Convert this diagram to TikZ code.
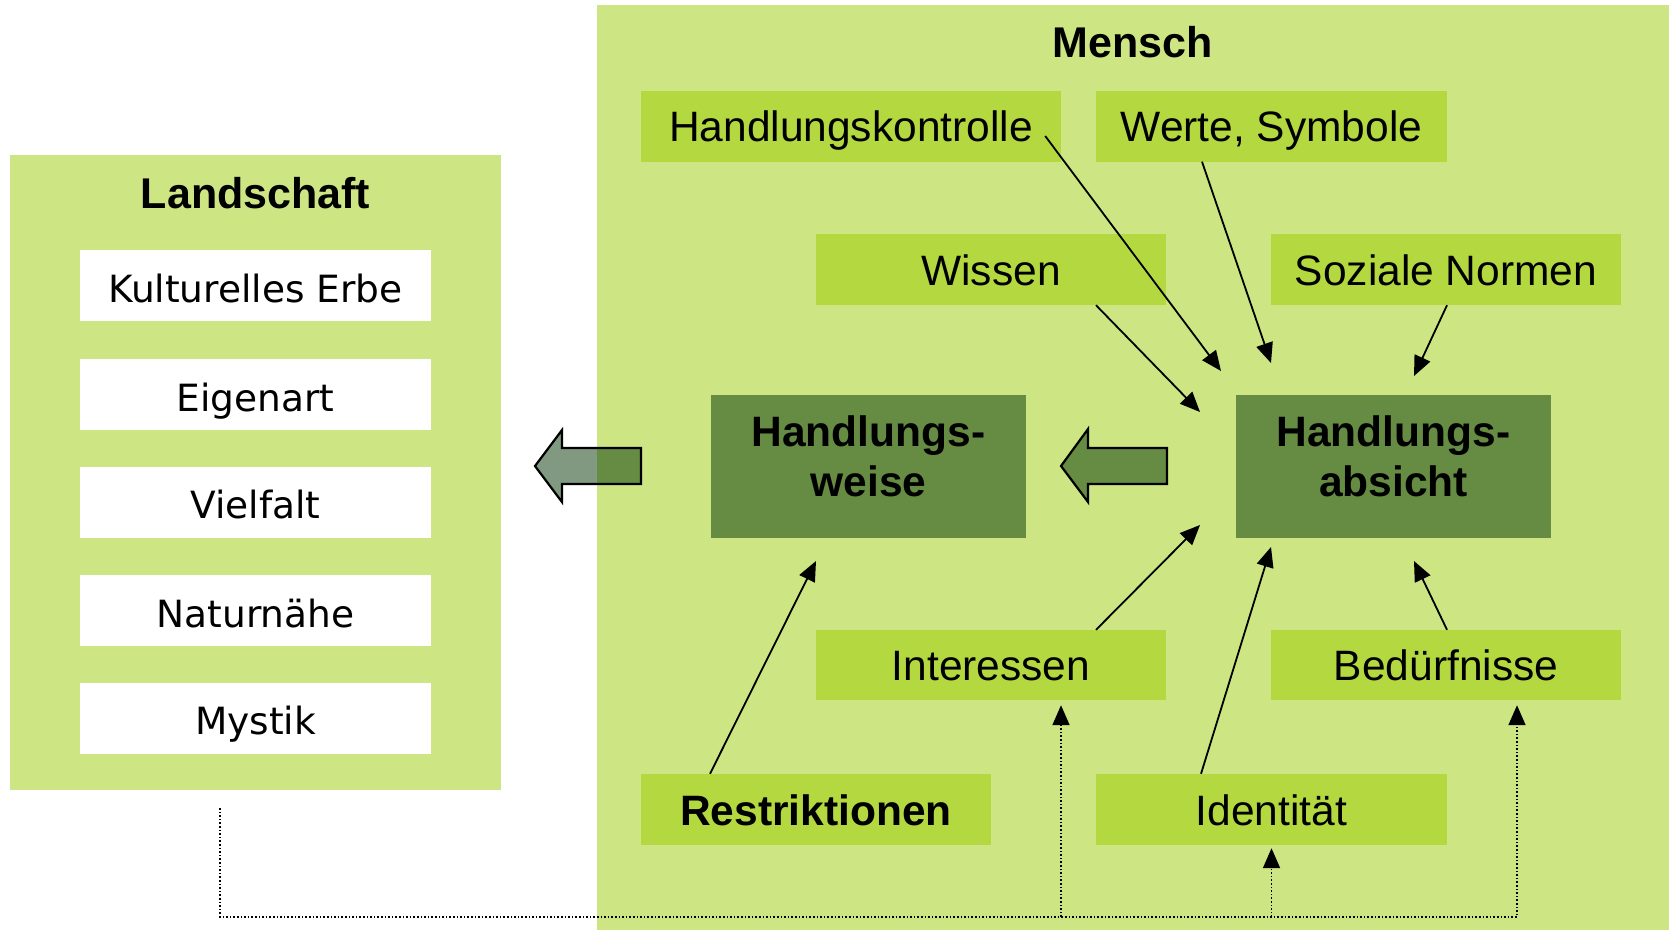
\documentclass[tikz,border=0pt]{standalone}
\usepackage{fontspec}
\setmainfont{Liberation Sans}
\newfontfamily\boxfont{DejaVu Sans}
\usetikzlibrary{arrows.meta}
\definecolor{lightg}{RGB}{205,229,130}
\definecolor{midg}{RGB}{180,216,64}
\definecolor{darkg}{RGB}{102,139,66}
\definecolor{greyg}{RGB}{128,153,128}
\tikzset{
  bigfont/.style={font=\fontsize{42.5pt}{50pt}\selectfont},
  factor/.style={fill=midg, draw=none, inner sep=0pt, minimum height=71pt, text height=31pt, text depth=0pt, bigfont},
  core/.style={fill=darkg, draw=none, inner sep=0pt, minimum width=315pt, minimum height=143pt, align=center, text depth=20pt, font=\fontsize{42.5pt}{50pt}\selectfont\bfseries},
  landbox/.style={fill=white, draw=none, inner sep=0pt, minimum width=351pt, minimum height=71pt, text height=33pt, text depth=0pt, font=\boxfont\fontsize{37.5pt}{44pt}\selectfont},
  title/.style={inner sep=0pt, font=\fontsize{43pt}{50pt}\selectfont\bfseries},
  conn/.style={line width=1.8pt, -{Triangle[length=20pt,width=17pt]}},
  dotline/.style={line width=1.8pt, dash pattern=on 1.6pt off 2pt},
  blockarrow/.style={line width=2.2pt, line join=miter}
}
\begin{document}
\begin{tikzpicture}[x=1pt,y=-1pt]
\useasboundingbox (0,0) rectangle (1669,930);
% panels
\fill[lightg] (597,5) rectangle (1669,930);
\fill[lightg] (10,155) rectangle (501,790);
\node[title] (landtitle) at (255.5,193) {Landschaft};
\node[title] (menschtitle) at (1133,42) {Mensch};
% Landschaft boxes
\node[landbox] (erbe) at (255.5,285.5) {Kulturelles Erbe};
\node[landbox] (eigen) at (255.5,394.5) {Eigenart};
\node[landbox] (viel) at (255.5,502) {Vielfalt};
\node[landbox] (natur) at (255.5,610.5) {Naturnähe};
\node[landbox] (mystik) at (255.5,718) {Mystik};
% Mensch boxes
\node[factor, minimum width=420pt] (kontrolle) at (851,126) {Handlungskontrolle};
\node[factor, minimum width=351pt] (werte) at (1271.5,126) {Werte, Symbole};
\node[factor, minimum width=350pt] (wissen) at (991,269.5) {Wissen};
\node[factor, minimum width=350pt] (normen) at (1446,269.5) {Soziale Normen};
\node[core] (weise) at (868.5,466.5) {Handlungs-\\weise};
\node[core] (absicht) at (1393.5,466.5) {Handlungs-\\absicht};
\node[factor, minimum width=350pt, minimum height=70pt] (interessen) at (991,665) {Interessen};
\node[factor, minimum width=350pt, minimum height=70pt] (beduerf) at (1446,665) {Bedürfnisse};
\node[factor, minimum width=350pt, font=\fontsize{42.5pt}{50pt}\selectfont\bfseries] (restrikt) at (816,809.5) {Restriktionen};
\node[factor, minimum width=351pt] (ident) at (1271.5,809.5) {Identität};
% block arrows
\begin{scope}
  \path[fill=greyg] (535,466) -- (562,430) -- (562,448) -- (641,448) -- (641,484) -- (562,484) -- (562,502) -- cycle;
  \clip (597,5) rectangle (1669,930);
  \path[fill=darkg] (535,466) -- (562,430) -- (562,448) -- (641,448) -- (641,484) -- (562,484) -- (562,502) -- cycle;
\end{scope}
\draw[blockarrow] (535,466) -- (562,430) -- (562,448) -- (641,448) -- (641,484) -- (562,484) -- (562,502) -- cycle;
\draw[blockarrow, fill=darkg] (1061,466) -- (1088,429) -- (1088,448) -- (1167,448) -- (1167,484) -- (1088,484) -- (1088,502) -- cycle;
% endpoints near Handlungsabsicht / Handlungsweise
\coordinate (e1) at (1221,371);
\coordinate (e2) at (1271,363);
\coordinate (e3) at (1200,412);
\coordinate (e4) at (1414,376);
\coordinate (e5) at (1200,525);
\coordinate (e6) at (1271,547);
\coordinate (e7) at (1414,561);
\coordinate (e8) at (816,561);
% solid connectors
\draw[conn] ([xshift=-16pt,yshift=-10pt]kontrolle.east) -- (e1);
\draw[conn] ([xshift=-69.5pt]werte.south) -- (e2);
\draw[conn] ([xshift=105pt]wissen.south) -- (e3);
\draw[conn] ([xshift=1pt]normen.south) -- (e4);
\draw[conn] ([xshift=105pt]interessen.north) -- (e5);
\draw[conn] ([xshift=-70.5pt]ident.north) -- (e6);
\draw[conn] ([xshift=1pt]beduerf.north) -- (e7);
\draw[conn] ([xshift=-106pt]restrikt.north) -- (e8);
% dotted feedback lines
\coordinate (lsrc) at (220,808);
\coordinate (j1) at (1061,917);
\coordinate (j2) at (1271.5,917);
\draw[dotline, -{Triangle[length=20pt,width=17pt]}, shorten >=5pt] (lsrc) |- (1517,917) -- ([xshift=71pt]beduerf.south);
\draw[dotline, -{Triangle[length=20pt,width=17pt]}, shorten >=5pt] (j1) -- ([xshift=70pt]interessen.south);
\draw[dotline, -{Triangle[length=20pt,width=17pt]}, shorten >=3pt] (j2) -- (ident.south);
\end{tikzpicture}
\end{document}
